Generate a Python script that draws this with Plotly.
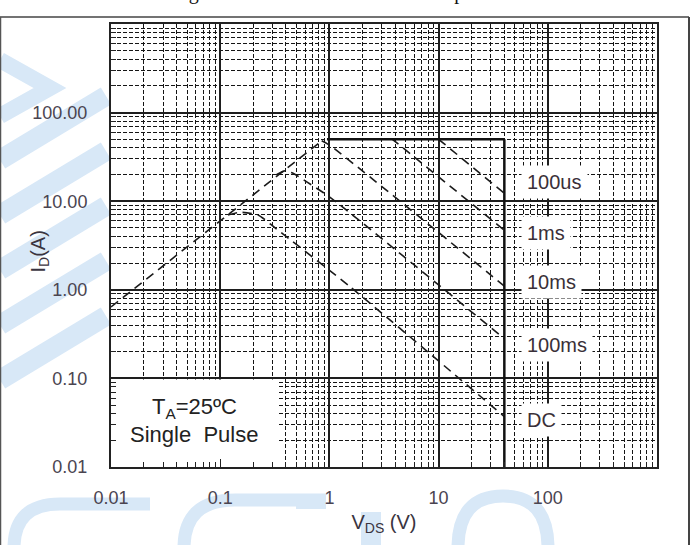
import math
import plotly.graph_objects as go

# ---- data ----
rds_v = [0.01, 0.85]
rds_i = [0.64, 48.0]

us100_v = [10.0, 40.0]
us100_i = [50.0, 12.3]

ms1_v = [3.7, 40.0]
ms1_i = [51.0, 4.7]

ms10_v = [0.85, 1.0, 40.0]
ms10_i = [48.0, 43.0, 1.1]

ms100_v = [0.33, 0.39, 0.46, 0.62, 1.0, 40.0]
ms100_i = [20.0, 22.0, 20.8, 16.5, 11.2, 0.28]

dc_v = [0.118, 0.152, 0.222, 0.318, 1.55, 40.0]
dc_i = [7.0, 7.5, 7.0, 5.0, 1.08, 0.037]

idlim_v = [0.95, 40.0]
idlim_i = [50.0, 50.0]

vdsmax_v = [40.0, 40.0]
vdsmax_i = [50.0, 0.01]

x_tickvals = [0.01, 0.1, 1, 10, 100]
x_ticktext = ["0.01", "0.1", "1", "10", "100"]
y_tickvals = [0.01, 0.1, 1, 10, 100]
y_ticktext = ["0.01", "0.10", "1.00", "10.00", "100.00"]

curve_labels = ["100us", "1ms", "10ms", "100ms", "DC"]
label_v = [57, 57, 57, 57, 57]
label_i = [16.5, 4.4, 1.22, 0.238, 0.034]

minor_vals = [m * 10 ** e for e in range(-2, 3) for m in range(2, 10)]

# plot area in pixels (for paper-referenced decoration)
L, T, W, H = 111, 24, 546, 443


def px(xp):
    return (xp - L) / W


def py(yp):
    return (T + H - yp) / H


fig = go.Figure()

dash_style = "9px,6px"
for v, i in [(rds_v, rds_i), (us100_v, us100_i), (ms1_v, ms1_i),
             (ms10_v, ms10_i), (ms100_v, ms100_i), (dc_v, dc_i)]:
    fig.add_trace(go.Scatter(x=v, y=i, mode="lines",
                             line=dict(color="#1a1a1a", width=1.6, dash=dash_style, shape="spline", smoothing=0.6),
                             showlegend=False, hoverinfo="skip"))

for v, i in [(idlim_v, idlim_i), (vdsmax_v, vdsmax_i)]:
    fig.add_trace(go.Scatter(x=v, y=i, mode="lines",
                             line=dict(color="#111", width=2.5),
                             showlegend=False, hoverinfo="skip"))

font_main = "Liberation Sans, Arial, sans-serif"

for txt, v, i in zip(curve_labels, label_v, label_i):
    fig.add_annotation(x=math.log10(v), y=math.log10(i), xref="x", yref="y",
                       text=txt, showarrow=False, xanchor="left", yanchor="middle",
                       font=dict(family=font_main, size=20, color="#3a3038"),
                       bgcolor="white", borderpad=5)

# legend box in lower-left
fig.add_shape(type="rect", xref="x", yref="y", x0=0.01, x1=0.338, y0=0.01, y1=0.097,
              fillcolor="white", line=dict(width=0), layer="between")
fig.add_annotation(x=math.log10(0.058), y=math.log10(0.046), xref="x", yref="y",
                   text="T<sub>A</sub>=25ºC", showarrow=False,
                   font=dict(family=font_main, size=22, color="#222"))
fig.add_annotation(x=math.log10(0.058), y=math.log10(0.0235), xref="x", yref="y",
                   text="Single  Pulse", showarrow=False,
                   font=dict(family=font_main, size=22, color="#222"))

# cut-off title line at the very top (only descenders visible)
fig.add_annotation(xref="paper", yref="paper", x=px(170), y=py(6),
                   xanchor="left", yanchor="bottom",
                   text="Figure 10. Maximum Rated Safe Operation Area", showarrow=False,
                   font=dict(family="Liberation Serif, Times New Roman, serif", size=20, color="#111"))

# light-blue watermark strokes outside the plot area
wm = "#d8e8f7"
for y0 in [160, 215, 270, 325, 380]:
    fig.add_shape(type="line", xref="paper", yref="paper", x0=px(0), y0=py(y0),
                  x1=px(106), y1=py(y0 - 64), line=dict(color=wm, width=20), layer="below")
fig.add_shape(type="path", xref="paper", yref="paper",
              path=f"M {px(0)},{py(60)} L {px(50)},{py(88)} L {px(0)},{py(116)}",
              line=dict(color=wm, width=16), layer="below")


def rounded(p0, c, p1):
    return f"M {px(p0[0])},{py(p0[1])} Q {px(c[0])},{py(c[1])} {px(p1[0])},{py(p1[1])}"


bottom_curves = [
    rounded((14, 548), (14, 504), (60, 504)) + f" L {px(150)},{py(504)}",
    rounded((184, 548), (184, 500), (235, 500)) + f" L {px(326)},{py(500)}",
    f"M {px(458)},{py(548)} Q {px(458)},{py(496)} {px(503)},{py(496)} Q {px(548)},{py(496)} {px(548)},{py(548)}",
]
for d in bottom_curves:
    fig.add_shape(type="path", xref="paper", yref="paper", path=d,
                  line=dict(color=wm, width=13), layer="below")
fig.add_shape(type="line", xref="paper", yref="paper", x0=px(371), x1=px(371), y0=py(512), y1=py(548),
              line=dict(color=wm, width=20), layer="below")
fig.add_shape(type="line", xref="paper", yref="paper", x0=px(296), x1=px(326), y0=py(504), y1=py(504),
              line=dict(color=wm, width=10), layer="below")

# page frame lines
fig.add_shape(type="line", xref="paper", yref="paper", x0=px(0), x1=px(689),
              y0=py(17), y1=py(17), line=dict(color="#444", width=1.5))
fig.add_shape(type="line", xref="paper", yref="paper", x0=px(689), x1=px(689),
              y0=py(17), y1=py(545), line=dict(color="#444", width=2))
fig.add_shape(type="line", xref="paper", yref="paper", x0=px(0.5), x1=px(0.5),
              y0=py(17), y1=py(545), line=dict(color="#555", width=1.5))

# y-axis title placed as annotation
fig.add_annotation(xref="paper", yref="paper", x=px(24), y=py(252), textangle=-90,
                   text="I<sub>D</sub>(A)", showarrow=False,
                   font=dict(family=font_main, size=20, color="#3a3440"))

axis_common = dict(
    type="log", range=[-2, 3],
    showgrid=True, gridcolor="#1e1e1e", gridwidth=2,
    showline=True, linecolor="#222", linewidth=2, mirror=True,
    ticks="inside", ticklen=8, tickcolor="#222", tickwidth=1,
    tickmode="array",
    tickfont=dict(family=font_main, size=18, color="#4a4450"),
    zeroline=False,
    minor=dict(tickmode="array", tickvals=minor_vals, showgrid=True,
               gridcolor="#151515", gridwidth=1.2, griddash="4px,2px",
               ticks="inside", ticklen=5, tickcolor="#222"),
)

fig.update_layout(
    width=694, height=545,
    margin=dict(l=L, r=694 - L - W, t=T, b=545 - T - H),
    paper_bgcolor="white", plot_bgcolor="white",
    xaxis=dict(axis_common, tickvals=x_tickvals, ticktext=x_ticktext, ticklabelstandoff=13,
               title=dict(text="V<sub>DS</sub> (V)", font=dict(family=font_main, size=20, color="#3a3440"), standoff=8)),
    yaxis=dict(axis_common, tickvals=y_tickvals, ticktext=y_ticktext, ticklabelstandoff=18),
)

fig.write_html("out.html")
